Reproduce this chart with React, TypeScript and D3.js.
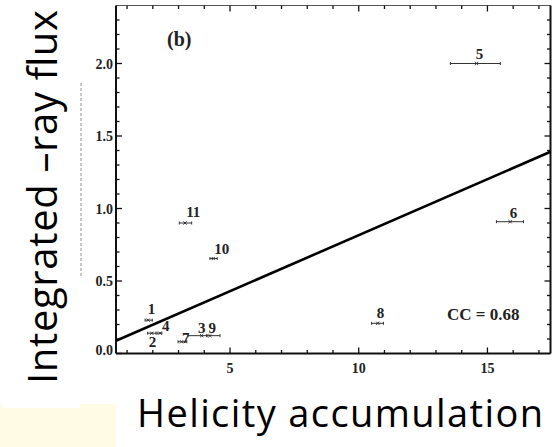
import React from "react";
import * as d3 from "d3";

// Event numbers, helicity accumulation (x), integrated flux (y) and x-error extents
const ids = ["1", "2", "3", "4", "5", "6", "7", "8", "9", "10", "11"];
const helicity = [1.82, 1.96, 3.9, 2.28, 14.58, 15.88, 3.12, 10.74, 4.22, 4.35, 3.25];
const flux = [0.23, 0.14, 0.123, 0.14, 2.0, 0.909, 0.081, 0.208, 0.123, 0.655, 0.9];
const xLow = [1.7, 1.8, 3.37, 2.16, 13.56, 15.35, 2.98, 10.5, 4.1, 4.22, 3.03];
const xHigh = [1.98, 2.12, 4.1, 2.35, 15.5, 16.4, 3.32, 10.96, 4.61, 4.5, 3.51];

// Linear fit: flux = intercept + slope * helicity
const fitIntercept = 0.044;
const fitSlope = 0.0772;
const ccText = "CC = 0.68";

const xTickLabels = [5, 10, 15];
const yTickLabels = [0.0, 0.5, 1.0, 1.5, 2.0];

// Label placement relative to each marker [dx, dy]
const labelOffset: Record<string, [number, number]> = {
  "1": [3.4, -6],
  "2": [0.6, 13.4],
  "3": [0, -2.4],
  "4": [5.7, -2.6],
  "5": [3, -4.5],
  "6": [3.3, -3.4],
  "7": [4, 1.3],
  "8": [2.7, -5.6],
  "9": [2.3, -2.4],
  "10": [8.4, -5],
  "11": [8.3, -6],
};

const W = 558;
const H = 447;
const left = 116;
const right = 550.5;
const top = 5.5;
const bottom = 353.5;

export default function App() {
  const x = d3.scaleLinear().domain([0.57, 17.45]).range([left, right]);
  const y = d3.scaleLinear().domain([0, 2.4]).range([bottom, top]);

  const xMinor = d3.range(1, 18);
  const yMinor = d3.range(1, 24).map((v) => v / 10);

  const serif = "'Liberation Serif', 'Times New Roman', serif";
  const sans = "'Open Sans', 'Liberation Sans', sans-serif";

  const [x0, x1] = x.domain();
  const fitLine = d3.line<number>()
    .x((v) => x(v))
    .y((v) => y(fitIntercept + fitSlope * v));

  return (
    <svg
      width={W}
      height={H}
      viewBox={`0 0 ${W} ${H}`}
      style={{ position: "absolute", left: 0, top: 0, background: "#fff" }}
    >
      <rect x={0} y={0} width={W} height={H} fill="#fff" />
      <rect x={0} y={404} width={116} height={43} fill="#fffbe4" />
      <rect x={2} y={403} width={78} height={5} fill="#fff" />

      {/* faint dashed trace left of the axis */}
      <line x1={81} x2={81} y1={83} y2={277} stroke="#777" strokeWidth={0.8} strokeDasharray="3,2" />

      {/* frame */}
      <line x1={left} x2={right} y1={top} y2={top} stroke="#555" strokeWidth={1.2} />
      <line x1={left} x2={left} y1={top} y2={bottom} stroke="#111" strokeWidth={2} />
      <line x1={right} x2={right} y1={top} y2={bottom} stroke="#111" strokeWidth={2} />
      <line x1={left} x2={right} y1={bottom} y2={bottom} stroke="#111" strokeWidth={2} />

      {/* x ticks */}
      {xMinor.map((v) => {
        const major = v % 5 === 0;
        const len = major ? 6 : 3.5;
        return (
          <g key={`xt${v}`} stroke="#111" strokeWidth={1.3}>
            <line x1={x(v)} x2={x(v)} y1={bottom} y2={bottom - len} />
            <line x1={x(v)} x2={x(v)} y1={top} y2={top + len} />
          </g>
        );
      })}
      {/* y ticks */}
      {yMinor.map((v) => {
        const major = Math.abs(v * 2 - Math.round(v * 2)) < 1e-6;
        const len = major ? 6 : 3.5;
        return (
          <g key={`yt${v}`} stroke="#111" strokeWidth={1.3}>
            <line x1={left} x2={left + len} y1={y(v)} y2={y(v)} />
            <line x1={right} x2={right - len} y1={y(v)} y2={y(v)} />
          </g>
        );
      })}
      <line x1={left} x2={left + 6} y1={y(0)} y2={y(0)} stroke="#111" strokeWidth={1.3} />

      {xTickLabels.map((v) => (
        <text
          key={`xl${v}`}
          x={x(v)}
          y={373}
          textAnchor="middle"
          fontFamily={serif}
          fontWeight="bold"
          fontSize={14}
          fill="#222"
        >
          {v}
        </text>
      ))}
      {yTickLabels.map((v) => (
        <text
          key={`yl${v}`}
          x={113}
          y={y(v) + 5 - (v === 0 ? 4 : 0)}
          textAnchor="end"
          fontFamily={serif}
          fontWeight="bold"
          fontSize={14}
          fill="#222"
        >
          {v.toFixed(1)}
        </text>
      ))}

      {/* fit line */}
      <path d={fitLine([x0, x1]) ?? ""} fill="none" stroke="#000" strokeWidth={2.6} />

      {/* error bars, markers and labels */}
      {ids.map((id, i) => {
        const cx = x(helicity[i]);
        const cy = y(flux[i]);
        const xa = x(xLow[i]);
        const xb = x(xHigh[i]);
        const [dx, dy] = labelOffset[id];
        return (
          <g key={id}>
            <g stroke="#333" strokeWidth={1}>
              <line x1={xa} x2={xb} y1={cy} y2={cy} />
              <line x1={xa} x2={xa} y1={cy - 1.5} y2={cy + 1.5} />
              <line x1={xb} x2={xb} y1={cy - 1.5} y2={cy + 1.5} />
              <line x1={cx - 1.6} x2={cx + 1.6} y1={cy - 1.6} y2={cy + 1.6} />
              <line x1={cx - 1.6} x2={cx + 1.6} y1={cy + 1.6} y2={cy - 1.6} />
            </g>
            <text
              x={cx + dx}
              y={cy + dy}
              textAnchor="middle"
              fontFamily={serif}
              fontWeight="bold"
              fontSize={15}
              fill="#222"
            >
              {id}
            </text>
          </g>
        );
      })}

      <text x={167} y={46} fontFamily={serif} fontWeight="bold" fontSize={20} fill="#222">
        (b)
      </text>
      <text x={447} y={320} fontFamily={serif} fontWeight="bold" fontSize={17} fill="#222">
        {ccText}
      </text>

      {/* axis titles */}
      <text
        x={137}
        y={427}
        fontFamily={sans}
        fontSize={38}
        fill="#000"
        textLength={406}
      >
        Helicity accumulation
      </text>
      <text
        transform="translate(57,197) rotate(-90)"
        textAnchor="middle"
        fontFamily={sans}
        fontSize={40}
        fill="#000"
        textLength={374}
      >
        Integrated –ray flux
      </text>
    </svg>
  );
}
